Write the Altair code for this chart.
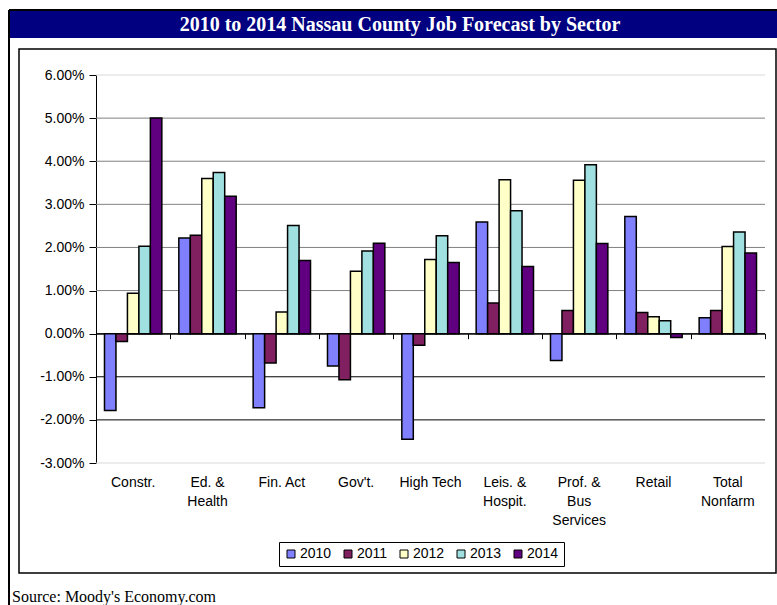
import altair as alt
import pandas as pd

categories = ["Constr.", "Ed. &\nHealth", "Fin. Act", "Gov't.", "High Tech",
              "Leis. &\nHospit.", "Prof. &\nBus\nServices", "Retail", "Total\nNonfarm"]
years = ["2010", "2011", "2012", "2013", "2014"]
v2010 = [-1.78, 2.22, -1.72, -0.75, -2.45, 2.59, -0.62, 2.72, 0.37]
v2011 = [-0.18, 2.28, -0.68, -1.07, -0.27, 0.71, 0.54, 0.49, 0.54]
v2012 = [0.94, 3.60, 0.50, 1.45, 1.72, 3.57, 3.56, 0.39, 2.02]
v2013 = [2.03, 3.74, 2.51, 1.92, 2.27, 2.85, 3.92, 0.30, 2.36]
v2014 = [5.00, 3.19, 1.70, 2.10, 1.65, 1.56, 2.09, -0.09, 1.87]
y_ticks = [-3, -2, -1, 0, 1, 2, 3, 4, 5, 6]
colors = ["#8080FF", "#802060", "#FFFFC8", "#A0E0E0", "#600080"]

title_text = "2010 to 2014 Nassau County Job Forecast by Sector"
source_text = "Source: Moody's Economy.com"

series = [v2010, v2011, v2012, v2013, v2014]
rows = []
for yr, vals in zip(years, series):
    for c, v in zip(categories, vals):
        rows.append({"sector": c, "year": yr, "value": v})
df = pd.DataFrame(rows)
grid_df = pd.DataFrame({"value": y_ticks})
one = pd.DataFrame({"d": [0]})

W, H = 669, 388
OX, OY = 96, 75
SANS = "Liberation Sans"
SERIF = "Liberation Serif"

yscale = alt.Scale(domain=[-3, 6], nice=False, zero=False)
xscale = alt.Scale(domain=categories, paddingInner=0, paddingOuter=0)
yaxis = alt.Axis(values=y_ticks, grid=False, domainColor="black", tickColor="black",
                 tickSize=7, labelFont=SANS, labelFontSize=14, labelColor="black",
                 labelPadding=5,
                 labelExpr="replace(format(datum.value, '.2f'), '\u2212', '-') + '%'")

# decorations (frame, title band, source)
outer_line = alt.Chart(one).mark_rule(color="black", strokeWidth=2).encode(
    x=alt.value(9 - OX), y=alt.value(10 - OY), y2=alt.value(605 - OY))
band = alt.Chart(one).mark_rect(fill="#000080").encode(
    x=alt.value(9 - OX), x2=alt.value(777 - OX), y=alt.value(10 - OY), y2=alt.value(38 - OY))
band_top = alt.Chart(one).mark_rule(color="black", strokeWidth=2).encode(
    x=alt.value(9 - OX), x2=alt.value(777 - OX), y=alt.value(10 - OY))
inner_box = alt.Chart(one).mark_rect(fillOpacity=0, stroke="black", strokeWidth=1.5).encode(
    x=alt.value(19 - OX), x2=alt.value(776 - OX), y=alt.value(49 - OY), y2=alt.value(573 - OY))
title = alt.Chart(one).mark_text(text=title_text, font=SERIF, fontSize=20, fontWeight="bold",
                                 color="white", align="center", baseline="middle").encode(
    x=alt.value(400 - OX), y=alt.value(25 - OY))
source = alt.Chart(one).mark_text(text=source_text, font=SERIF, fontSize=16, color="black",
                                  align="left", baseline="alphabetic").encode(
    x=alt.value(12 - OX), y=alt.value(602 - OY))


def grid_layer(test, col):
    return alt.Chart(grid_df).transform_filter(test).mark_rule(strokeWidth=1, color=col).encode(
        y=alt.Y("value:Q", scale=yscale, title=None, axis=yaxis))


grid_light = grid_layer("datum.value >= 6 || datum.value <= -3", "#d9d9d9")
grid_dark = grid_layer("datum.value > -3 && datum.value <= 0", "#000000")
grid_gray = grid_layer("datum.value > 0 && datum.value < 6", "#808080")

bars = alt.Chart(df).mark_bar(stroke="black", strokeWidth=1.5, strokeOpacity=1).encode(
    x=alt.X("sector:N", scale=xscale, sort=categories, title=None,
            axis=alt.Axis(orient="bottom", domain=False, ticks=False, labelAngle=0,
                          labelFont=SANS, labelFontSize=14, labelColor="black",
                          labelPadding=12, labelLineHeight=19, labelLimit=200,
                          labelExpr="split(datum.label, '\\n')")),
    xOffset=alt.XOffset("year:N", sort=years,
                        scale=alt.Scale(paddingInner=0, paddingOuter=0.74)),
    y=alt.Y("value:Q", scale=yscale, title=None, axis=yaxis),
    stroke=alt.value("black"),
    fill=alt.Fill("year:N", sort=years, scale=alt.Scale(domain=years, range=colors),
                  legend=alt.Legend(title=None, orient="none", legendX=183, legendY=467,
                                    direction="horizontal", strokeColor="black",
                                    fillColor="white", padding=5,
                                    symbolType="square", symbolSize=64,
                                    symbolStrokeColor="black", symbolStrokeWidth=1,
                                    labelFont=SANS, labelFontSize=14, labelColor="black",
                                    labelOffset=2, columnPadding=9)),
)

zero_axis = alt.Chart(df).mark_bar(opacity=0).encode(
    x=alt.X("sector:N", scale=xscale, sort=categories, title=None,
            axis=alt.Axis(orient="bottom", offset=-H * 3 / 9, labels=False, domain=True,
                          domainColor="black", ticks=True, tickColor="black", tickSize=5,
                          tickBand="extent", grid=False)),
)

chart = alt.layer(band, band_top, outer_line, inner_box, title, source,
                  grid_light, grid_dark, grid_gray, bars, zero_axis).resolve_axis(
    x="independent"
).properties(
    width=W, height=H,
    padding={"left": OX, "top": OY, "right": 777 - OX - W, "bottom": 605 - OY - H},
    autosize=alt.AutoSizeParams(type="none"),
    background="white",
).configure_view(stroke=None)

chart.save("out.html", embed_options={"renderer": "svg", "actions": False})
